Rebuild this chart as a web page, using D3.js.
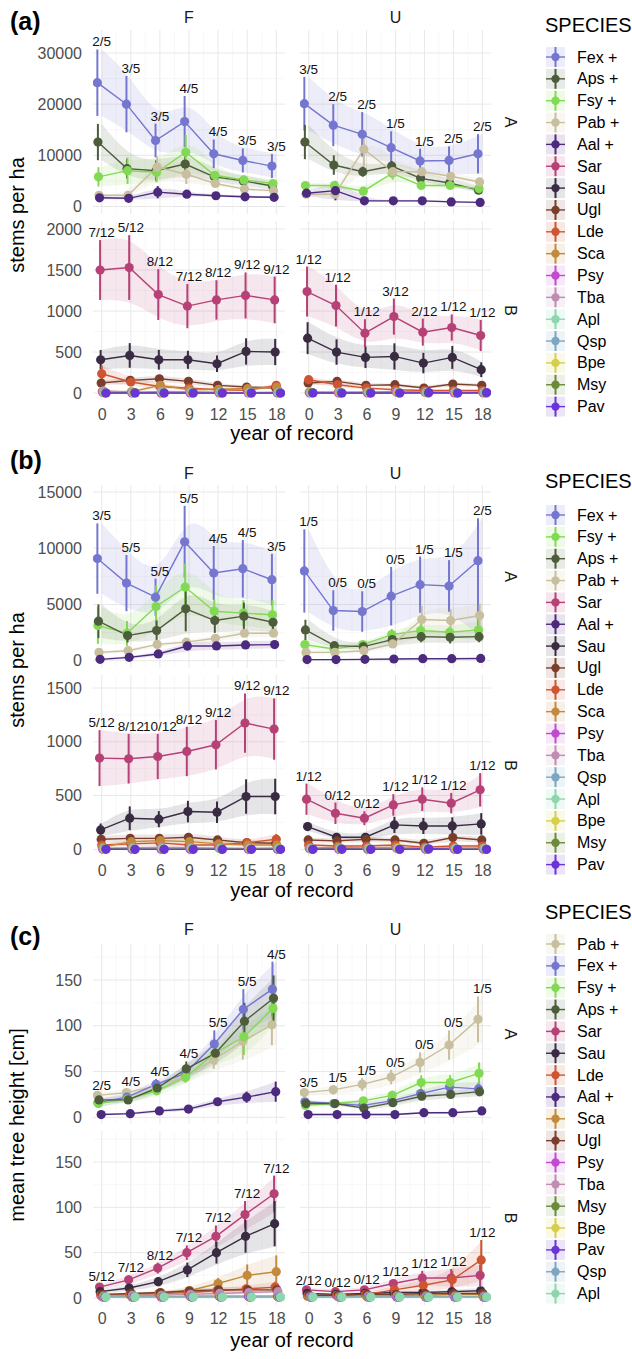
<!DOCTYPE html>
<html>
<head>
<meta charset="utf-8">
<script src="https://cdn.jsdelivr.net/npm/d3@7"></script>
<style>
body { margin: 0; background: #fff; }
text { font-family: "Liberation Sans", Arial, Helvetica, sans-serif; }
</style>
</head>
<body>
<script>
var years = [0, 3, 6, 9, 12, 15, 18];

var colors = {Fex:"#7476d0", Aps:"#4d5d3b", Fsy:"#82da52", Pab:"#c8bf9e", Aal:"#4c2a7e",
  Sar:"#b64176", Sau:"#392c42", Ugl:"#7a3f2c", Lde:"#cf5532", Sca:"#c38a3d", Psy:"#c24ad0",
  Tba:"#c08db2", Apl:"#8ed6ad", Qsp:"#7ea6c1", Bpe:"#d5cf4c", Msy:"#6b8a3c", Pav:"#6a35d6"};
var plusSpecies = ["Fex", "Aps", "Fsy", "Pab", "Aal"];

// legend order of each figure part
var orderA = ["Fex","Aps","Fsy","Pab","Aal","Sar","Sau","Ugl","Lde","Sca","Psy","Tba","Apl","Qsp","Bpe","Msy","Pav"];
var orderB = ["Fex","Fsy","Aps","Pab","Sar","Aal","Sau","Ugl","Lde","Sca","Psy","Tba","Qsp","Apl","Bpe","Msy","Pav"];
var orderC = ["Pab","Fex","Fsy","Aps","Sar","Sau","Lde","Aal","Sca","Ugl","Psy","Tba","Msy","Bpe","Pav","Qsp","Apl"];

// (a) stems per ha, F
var aF_mean = {
  Fex:[24200,20000,12900,16600,10300,9000,7900], Aps:[12600,7400,7000,8300,5800,5000,4000],
  Fsy:[5800,7000,6700,10600,6100,5200,4500], Pab:[2200,2200,7700,6300,4500,3400,3100],
  Aal:[1700,1600,2800,2400,2100,1900,1800],
  Sar:[1500,1530,1200,1060,1135,1190,1135], Sau:[405,458,405,405,357,507,500],
  Ugl:[122,154,174,142,93,73,61], Lde:[235,134,80,60,40,32,93], Sca:[20,15,93,40,45,55,69],
  Psy:[5,0,0,0,0,0,0], Tba:[25,10,20,15,10,5,5], Apl:[5,5,5,5,5,5,5], Qsp:[5,0,10,5,5,5,10],
  Bpe:[0,0,0,0,0,0,0], Msy:[0,5,0,0,0,0,0], Pav:[0,0,0,0,0,0,0]
};
var aF_err = {
  Fex:[6500,5500,3300,5000,2800,2350,2350], Aps:[3550,1950,2000,2100,1000,1000,800],
  Fsy:[1900,2600,2000,3400,800,800,650], Pab:[300,300,2100,1900,500,400,300],
  Aal:[300,300,1200,300,300,200,200],
  Sar:[365,395,310,270,240,280,285], Sau:[120,150,120,110,100,160,160],
  Ugl:[30,35,40,35,25,15,15], Lde:[100,50,30,20,15,10,30], Sca:[10,10,30,15,15,15,20],
  Psy:[0,0,0,0,0,0,0], Tba:[10,5,10,5,5,5,5], Apl:[0,0,0,0,0,0,0], Qsp:[5,0,5,5,5,5,5],
  Bpe:[0,0,0,0,0,0,0], Msy:[0,0,0,0,0,0,0], Pav:[0,0,0,0,0,0,0]
};
// (a) stems per ha, U
var aU_mean = {
  Fex:[20100,15900,14100,11500,8900,9000,10300], Aps:[12600,8100,6800,7900,5500,4600,3200],
  Fsy:[4100,4100,3000,6500,4100,4100,3500], Pab:[2400,2400,11200,6800,6800,5900,4800],
  Aal:[2600,3100,1100,1100,1100,900,800],
  Sar:[1237,1066,730,932,742,799,701], Sau:[669,499,434,446,365,434,284],
  Ugl:[122,142,93,101,61,109,93], Lde:[162,100,60,40,30,30,30], Sca:[10,10,10,20,10,10,10],
  Psy:[0,0,0,10,10,0,0], Tba:[10,10,10,10,10,10,10], Apl:[5,5,5,5,5,5,5], Qsp:[5,5,5,5,5,5,5],
  Bpe:[0,0,0,5,0,0,0], Msy:[5,0,0,0,0,0,0], Pav:[0,0,0,0,5,0,5]
};
var aU_err = {
  Fex:[5250,4100,4350,3200,2400,2750,3850], Aps:[3350,1900,1000,1000,1000,800,650],
  Fsy:[500,500,400,1000,500,400,500], Pab:[300,300,3400,1600,600,600,600],
  Aal:[600,1900,200,200,200,200,200],
  Sar:[305,255,170,220,165,160,190], Sau:[195,155,130,160,125,140,90],
  Ugl:[30,30,20,20,20,25,20], Lde:[40,30,20,15,10,10,10], Sca:[5,5,5,10,5,5,5],
  Psy:[0,0,0,5,5,0,0], Tba:[5,5,5,5,5,5,5], Apl:[0,0,0,0,0,0,0], Qsp:[0,0,0,0,0,0,0],
  Bpe:[0,0,0,0,0,0,0], Msy:[0,0,0,0,0,0,0], Pav:[0,0,0,0,0,0,0]
};

// (b) stems per ha, F
var bF_mean = {
  Fex:[9080,6900,5650,10570,7800,8180,7200], Fsy:[3125,2440,4820,6550,4400,4230,4080],
  Aps:[3510,2230,2680,4610,3570,3960,3420], Pab:[740,890,1450,1650,1990,2440,2440],
  Aal:[120,300,600,1310,1310,1400,1430],
  Sar:[848,842,863,910,972,1174,1118], Sau:[180,289,280,351,345,491,491],
  Ugl:[93,102,102,112,87,62,56], Lde:[40,50,60,40,40,62,93], Sca:[20,71,81,71,50,40,40],
  Psy:[0,0,0,0,10,0,0], Tba:[10,15,20,15,10,10,10], Qsp:[0,5,5,10,5,5,10], Apl:[5,5,5,5,5,5,5],
  Bpe:[0,0,0,0,0,5,5], Msy:[5,0,0,0,0,0,0], Pav:[0,0,0,0,0,0,0]
};
var bF_err = {
  Fex:[3130,2500,1650,3200,2400,2560,2300], Fsy:[1630,1100,1860,2100,1050,1150,1300],
  Aps:[1500,600,900,2000,1100,1200,900], Pab:[150,150,200,200,250,350,300],
  Aal:[100,100,200,400,350,350,350],
  Sar:[260,230,210,230,230,275,285], Sau:[60,110,75,100,100,160,165],
  Ugl:[30,40,30,40,30,25,25], Lde:[20,20,30,20,20,20,50], Sca:[15,30,30,30,20,20,20],
  Psy:[0,0,0,0,5,0,0], Tba:[5,5,10,5,5,5,5], Qsp:[0,0,0,5,0,0,5], Apl:[0,0,0,0,0,0,0],
  Bpe:[0,0,0,0,0,0,0], Msy:[0,0,0,0,0,0,0], Pav:[0,0,0,0,0,0,0]
};
// (b) stems per ha, U
var bU_mean = {
  Fex:[7980,4460,4375,5740,6760,6640,8890], Fsy:[1430,1040,1430,2320,2680,2530,2740],
  Aps:[2740,1340,1250,1875,2140,2080,2140], Pab:[740,740,890,1490,3660,3570,4020],
  Aal:[100,100,120,150,180,180,200],
  Sar:[466,335,289,413,466,429,553], Sau:[211,112,112,227,217,217,236],
  Ugl:[87,78,93,87,56,109,87], Lde:[40,30,30,40,20,30,30], Sca:[10,20,10,20,10,10,10],
  Psy:[5,0,0,10,0,0,0], Tba:[10,10,10,10,10,10,10], Qsp:[5,5,5,5,5,5,5], Apl:[5,5,5,5,5,5,5],
  Bpe:[0,0,0,10,0,0,0], Msy:[0,5,0,0,0,0,0], Pav:[0,0,0,0,5,0,0]
};
var bU_err = {
  Fex:[3700,1800,1800,2600,2500,2300,[7050,3770]], Fsy:[300,250,300,500,600,500,900],
  Aps:[900,300,300,500,500,550,500], Pab:[150,150,200,300,1200,1000,1050],
  Aal:[50,50,50,50,50,50,50],
  Sar:[145,100,65,100,110,95,155], Sau:[40,30,30,75,75,80,100],
  Ugl:[25,20,25,25,20,30,25], Lde:[20,15,15,20,10,15,15], Sca:[5,10,5,10,5,5,5],
  Psy:[0,0,0,5,0,0,0], Tba:[5,5,5,5,5,5,5], Qsp:[0,0,0,0,0,0,0], Apl:[0,0,0,0,0,0,0],
  Bpe:[0,0,0,0,0,0,0], Msy:[0,0,0,0,0,0,0], Pav:[0,0,0,0,0,0,0]
};

// (c) mean tree height, F
var cF_mean = {
  Pab:[24,27,34,44,63,83,101], Fex:[16,22,36,48,80,118,140], Fsy:[15,20,29,44,70,88,119],
  Aps:[19,19,32,53,70,105,130], Aal:[3,4,7,9,17,22,28],
  Sar:[12,20,33,50,68,92,115], Sau:[7,11,18,31,50,68,82], Lde:[3,4,5,6,8,10,12],
  Sca:[2,3,5,8,16,25,29], Ugl:[4,5,6,8,9,9,9], Psy:[1,1,1,2,2,2,2], Tba:[2,3,3,4,5,6,7],
  Msy:[1,1,1,1,1,1,1], Bpe:[1,1,1,1,1,1,1], Pav:[1,1,1,1,1,1,1], Qsp:[1,1,1,1,1,1,1], Apl:[1,1,1,1,1,1,1]
};
var cF_err = {
  Pab:[3,4,5,6,10,20,22], Fex:[4,5,6,8,15,22,30], Fsy:[3,4,5,6,10,20,15],
  Aps:[3,4,5,8,12,20,25], Aal:[1,1,2,2,4,6,11],
  Sar:[3,5,6,8,12,15,20], Sau:[2,3,5,8,12,18,25], Lde:[1,1,2,2,3,4,6],
  Sca:[1,1,2,4,6,12,18], Ugl:[1,1,2,2,3,3,3], Psy:[0,0,0,1,1,1,1], Tba:[1,1,1,1,2,2,2],
  Msy:[0,0,0,0,0,0,0], Bpe:[0,0,0,0,0,0,0], Pav:[0,0,0,0,0,0,0], Qsp:[0,0,0,0,0,0,0], Apl:[0,0,0,0,0,0,0]
};
// (c) mean tree height, U
var cU_mean = {
  Pab:[27,30,36,44,60,79,107], Fex:[17,15,13,18,26,33,31], Fsy:[13,15,18,24,38,38,48],
  Aps:[15,15,10,16,23,25,28], Aal:[3,3,3,3,5,5,7],
  Sar:[9,7,9,16,22,22,25], Sau:[5,4,5,6,6,7,8], Lde:[2,3,4,9,14,20,42],
  Sca:[2,2,2,3,3,4,4], Ugl:[3,3,4,4,5,5,5], Psy:[1,1,1,1,1,1,1], Tba:[1,1,2,2,2,2,2],
  Msy:[1,1,1,1,1,1,1], Bpe:[1,1,1,1,1,1,1], Pav:[1,1,1,1,1,1,1], Qsp:[1,1,1,1,1,1,1], Apl:[1,1,1,1,1,1,1]
};
var cU_err = {
  Pab:[3,5,7,8,11,16,25], Fex:[2,2,3,3,5,6,7], Fsy:[2,2,3,5,8,8,12],
  Aps:[2,2,3,3,4,4,5], Aal:[1,1,1,1,1,1,1],
  Sar:[2,2,3,5,8,10,12], Sau:[1,1,1,2,2,2,3], Lde:[1,1,2,4,6,10,22],
  Sca:[0,0,0,1,1,1,1], Ugl:[1,1,1,1,1,1,1], Psy:[0,0,0,0,0,0,0], Tba:[0,0,0,0,0,0,0],
  Msy:[0,0,0,0,0,0,0], Bpe:[0,0,0,0,0,0,0], Pav:[0,0,0,0,0,0,0], Qsp:[0,0,0,0,0,0,0], Apl:[0,0,0,0,0,0,0]
};

// plot counts written above each year
var aF_labA = ["2/5","3/5","3/5","4/5","4/5","3/5","3/5"];
var aF_labB = ["7/12","5/12","8/12","7/12","8/12","9/12","9/12"];
var aU_labA = ["3/5","2/5","2/5","1/5","1/5","2/5","2/5"];
var aU_labB = ["1/12","1/12","1/12","3/12","2/12","1/12","1/12"];
var bF_labA = ["3/5","5/5","5/5","5/5","4/5","4/5","3/5"];
var bF_labB = ["5/12","8/12","10/12","8/12","9/12","9/12","9/12"];
var bU_labA = ["1/5","0/5","0/5","0/5","1/5","1/5","2/5"];
var bU_labB = ["1/12","0/12","0/12","1/12","1/12","1/12","1/12"];
var cF_labA = ["2/5","4/5","4/5","4/5","5/5","5/5","4/5"];
var cF_labB = ["5/12","7/12","8/12","7/12","7/12","7/12","7/12"];
var cU_labA = ["3/5","1/5","1/5","0/5","0/5","0/5","1/5"];
var cU_labB = ["2/12","0/12","0/12","1/12","1/12","1/12","1/12"];

var svg = d3.select("body").append("svg")
  .attr("width", 632).attr("height", 1359);

var xF = d3.scaleLinear().domain([-0.9, 18.9]).range([93, 285]);
var xU = d3.scaleLinear().domain([-0.9, 18.9]).range([300, 491]);

var blocks = [
  {tag:"(a)", tagY:30, stripY:23, xTickY:420, xTitleY:440, yTitleY:215, yTitle:"stems per ha",
   order:orderA, legTitleY:32, legY0:57,
   F:[aF_mean, aF_err, [aF_labA, aF_labB]], U:[aU_mean, aU_err, [aU_labA, aU_labB]],
   rows:[{key:"A", top:30, bottom:214, y0:206.5, y1:53, max:30000, step:10000},
         {key:"B", top:221, bottom:400, y0:393, y1:229, max:2000, step:500}]},
  {tag:"(b)", tagY:469, stripY:479, xTickY:876, xTitleY:897, yTitleY:670, yTitle:"stems per ha",
   order:orderB, legTitleY:488, legY0:515,
   F:[bF_mean, bF_err, [bF_labA, bF_labB]], U:[bU_mean, bU_err, [bU_labA, bU_labB]],
   rows:[{key:"A", top:485, bottom:668, y0:660.7, y1:492, max:15000, step:5000},
         {key:"B", top:675, bottom:856, y0:849.3, y1:688, max:1500, step:500}]},
  {tag:"(c)", tagY:945, stripY:935, xTickY:1324, xTitleY:1347, yTitleY:1125, yTitle:"mean tree height [cm]",
   order:orderC, legTitleY:919, legY0:944,
   F:[cF_mean, cF_err, [cF_labA, cF_labB]], U:[cU_mean, cU_err, [cU_labA, cU_labB]],
   rows:[{key:"A", top:944, bottom:1124, y0:1117.3, y1:980, max:150, step:50},
         {key:"B", top:1131, bottom:1305, y0:1298, y1:1162, max:150, step:50}]}
];

function errPair(e) { return Array.isArray(e) ? e : [e, e]; }

var clipId = 0;

blocks.forEach(function(b) {
  var g = svg.append("g");
  var dodge = d3.scalePoint().domain(b.order).range([-0.45, 0.45]);

  g.append("text").attr("x", 10).attr("y", b.tagY)
    .attr("font-size", 25).attr("font-weight", "bold").text(b.tag);

  [["F", xF], ["U", xU]].forEach(function(f) {
    var r = f[1].range();
    g.append("text").attr("x", (r[0] + r[1]) / 2).attr("y", b.stripY)
      .attr("text-anchor", "middle").attr("font-size", 16).attr("fill", "#1a1a1a").text(f[0]);
  });

  b.rows.forEach(function(row, ri) {
    var y = d3.scaleLinear().domain([0, row.max]).range([row.y0, row.y1]);
    var vTop = y.invert(row.top);
    var major = d3.range(0, vTop, row.step);
    var minor = d3.range(row.step / 2, vTop, row.step);
    var minorX = years.slice(0, -1).map(function(d) { return d + 1.5; });

    [["F", xF], ["U", xU]].forEach(function(f) {
      var x = f[1], fd = b[f[0]];
      var mean = fd[0], err = fd[1], labs = fd[2][ri];
      var pg = g.append("g");
      var xr = x.range();

      // grid
      pg.selectAll(".ymin").data(minor).enter().append("line")
        .attr("x1", xr[0]).attr("x2", xr[1]).attr("y1", y).attr("y2", y)
        .attr("stroke", "#f3f3f3").attr("stroke-width", 0.6);
      pg.selectAll(".xmin").data(minorX).enter().append("line")
        .attr("x1", x).attr("x2", x).attr("y1", row.top).attr("y2", row.bottom)
        .attr("stroke", "#f3f3f3").attr("stroke-width", 0.6);
      pg.selectAll(".ymaj").data(major).enter().append("line")
        .attr("x1", xr[0]).attr("x2", xr[1]).attr("y1", y).attr("y2", y)
        .attr("stroke", "#e8e8e8").attr("stroke-width", 1);
      pg.selectAll(".xmaj").data(years).enter().append("line")
        .attr("x1", x).attr("x2", x).attr("y1", row.top).attr("y2", row.bottom)
        .attr("stroke", "#e8e8e8").attr("stroke-width", 1);

      var id = "clip" + (clipId++);
      pg.append("clipPath").attr("id", id).append("rect")
        .attr("x", xr[0]).attr("y", row.top).attr("width", xr[1] - xr[0]).attr("height", row.bottom - row.top);

      var species = b.order.filter(function(s) {
        return (plusSpecies.indexOf(s) >= 0) === (ri === 0);
      });
      var series = species.map(function(s) {
        return {s: s, pts: years.map(function(yr, i) {
          var e = errPair(err[s][i]);
          return {yr: yr, xd: yr + dodge(s), m: mean[s][i], lo: mean[s][i] - e[0], hi: mean[s][i] + e[1]};
        })};
      });

      var dg = pg.append("g").attr("clip-path", "url(#" + id + ")");
      var area = d3.area().x(function(d) { return x(d.yr); })
        .y0(function(d) { return y(d.lo); }).y1(function(d) { return y(d.hi); })
        .curve(d3.curveBasis);
      var line = d3.line().x(function(d) { return x(d.xd); }).y(function(d) { return y(d.m); });

      dg.selectAll(".rib").data(series).enter().append("path")
        .attr("d", function(d) { return area(d.pts); })
        .attr("fill", function(d) { return colors[d.s]; }).attr("fill-opacity", 0.13);
      dg.selectAll(".ln").data(series).enter().append("path")
        .attr("d", function(d) { return line(d.pts); })
        .attr("fill", "none").attr("stroke", function(d) { return colors[d.s]; }).attr("stroke-width", 1.4);
      series.forEach(function(sr) {
        dg.selectAll(null).data(sr.pts).enter().append("line")
          .attr("x1", function(d) { return x(d.xd); }).attr("x2", function(d) { return x(d.xd); })
          .attr("y1", function(d) { return y(d.lo); }).attr("y2", function(d) { return y(d.hi); })
          .attr("stroke", colors[sr.s]).attr("stroke-width", 2);
      });
      series.forEach(function(sr) {
        dg.selectAll(null).data(sr.pts).enter().append("circle")
          .attr("cx", function(d) { return x(d.xd); }).attr("cy", function(d) { return y(d.m); })
          .attr("r", 4.6).attr("fill", colors[sr.s]);
      });

      // plot counts
      pg.selectAll(".lab").data(years).enter().append("text")
        .attr("x", function(d) { return x(d); })
        .attr("y", function(d, i) {
          var top = d3.max(series, function(sr) { return sr.pts[i].hi; });
          return y(top) - 3;
        })
        .attr("text-anchor", "middle").attr("font-size", 13.5).attr("fill", "#111")
        .text(function(d, i) { return labs[i]; });
    });

    // y axis
    var ya = g.append("g").attr("transform", "translate(93,0)")
      .call(d3.axisLeft(y).tickValues(major).tickSize(0).tickPadding(11).tickFormat(d3.format("d")));
    ya.select(".domain").remove();
    ya.selectAll("text").attr("font-size", 16).attr("fill", "#4d4d4d")
      .attr("font-family", "'Liberation Sans', Arial, Helvetica, sans-serif");

    // row strip
    g.append("text").attr("transform", "translate(510," + ((row.top + row.bottom) / 2) + ") rotate(90)")
      .attr("text-anchor", "middle").attr("dominant-baseline", "central")
      .attr("font-size", 16).attr("fill", "#1a1a1a").text(row.key);
  });

  // x axes
  [xF, xU].forEach(function(x) {
    var xa = g.append("g").attr("transform", "translate(0," + (b.xTickY - 8 - 11.4) + ")")
      .call(d3.axisBottom(x).tickValues(years).tickSize(0).tickPadding(8));
    xa.select(".domain").remove();
    xa.selectAll("text").attr("font-size", 16).attr("fill", "#4d4d4d")
      .attr("font-family", "'Liberation Sans', Arial, Helvetica, sans-serif");
  });

  g.append("text").attr("x", 292).attr("y", b.xTitleY).attr("text-anchor", "middle")
    .attr("font-size", 20).text("year of record");
  g.append("text").attr("transform", "translate(24," + b.yTitleY + ") rotate(-90)")
    .attr("text-anchor", "middle").attr("font-size", 20).text(b.yTitle);

  // legend
  var lg = g.append("g");
  lg.append("text").attr("x", 545).attr("y", b.legTitleY).attr("font-size", 20).text("SPECIES");
  var keys = lg.selectAll(".key").data(b.order).enter().append("g")
    .attr("transform", function(d, i) { return "translate(546," + (b.legY0 + i * 21.85) + ")"; });
  keys.append("rect").attr("x", 0).attr("y", -10).attr("width", 19).attr("height", 20)
    .attr("fill", function(d) { return colors[d]; }).attr("fill-opacity", 0.13);
  keys.append("line").attr("x1", 0).attr("x2", 19).attr("y1", 0).attr("y2", 0)
    .attr("stroke", function(d) { return colors[d]; }).attr("stroke-width", 1.4);
  keys.append("line").attr("x1", 9.5).attr("x2", 9.5).attr("y1", -10).attr("y2", 10)
    .attr("stroke", function(d) { return colors[d]; }).attr("stroke-width", 2);
  keys.append("circle").attr("cx", 9.5).attr("cy", 0).attr("r", 4.2)
    .attr("fill", function(d) { return colors[d]; });
  keys.append("text").attr("x", 31).attr("y", 0).attr("dominant-baseline", "central")
    .attr("font-size", 16)
    .text(function(d) { return plusSpecies.indexOf(d) >= 0 ? d + " +" : d; });
});
</script>
</body>
</html>
